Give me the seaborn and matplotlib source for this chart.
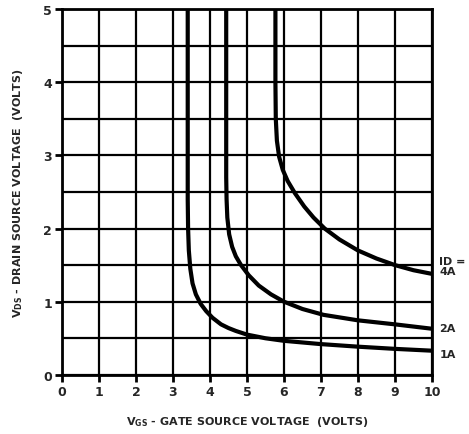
import matplotlib
matplotlib.use("Agg")
import matplotlib.pyplot as plt
import pandas as pd
import seaborn as sns

# curves (VGS, VDS) for each drain current
vgs_1a = [3.40, 3.40, 3.41, 3.43, 3.47, 3.53, 3.62, 3.75, 3.90, 4.07, 4.30, 4.50, 4.70, 5.0, 5.5, 6.0, 7.0, 8.0, 9.0, 10.0]
vds_1a = [5.0, 2.4, 2.0, 1.7, 1.45, 1.25, 1.1, 0.97, 0.87, 0.78, 0.69, 0.64, 0.60, 0.55, 0.50, 0.465, 0.42, 0.385, 0.355, 0.33]
vgs_2a = [4.44, 4.44, 4.45, 4.47, 4.52, 4.60, 4.70, 4.84, 5.05, 5.32, 5.65, 6.0, 6.5, 7.07, 8.0, 9.0, 10.0]
vds_2a = [5.0, 2.7, 2.4, 2.15, 1.92, 1.75, 1.62, 1.5, 1.36, 1.22, 1.1, 1.0, 0.9, 0.82, 0.745, 0.69, 0.63]
vgs_4a = [5.77, 5.77, 5.78, 5.81, 5.87, 5.97, 6.1, 6.3, 6.55, 6.8, 7.1, 7.5, 8.0, 8.5, 9.0, 9.5, 10.0]
vds_4a = [5.0, 4.0, 3.5, 3.2, 2.98, 2.8, 2.65, 2.48, 2.3, 2.15, 2.0, 1.85, 1.7, 1.59, 1.5, 1.43, 1.38]

currents = ["1A", "2A", "4A"]
x_ticks = list(range(0, 11))
y_ticks = list(range(0, 6))

df = pd.concat([
    pd.DataFrame({"vgs": vgs_1a, "vds": vds_1a, "id": "1A"}),
    pd.DataFrame({"vgs": vgs_2a, "vds": vds_2a, "id": "2A"}),
    pd.DataFrame({"vgs": vgs_4a, "vds": vds_4a, "id": "4A"}),
], ignore_index=True)

sns.set_style("white")
plt.rcParams["font.family"] = ["DejaVu Sans"]
plt.rcParams["font.weight"] = "bold"

fig = plt.figure(figsize=(4.69, 4.35), dpi=100)
ax = fig.add_axes([0.132, 0.136, 0.789, 0.841])

sns.lineplot(data=df, x="vgs", y="vds", hue="id", hue_order=currents,
             palette=["black"] * 3, sort=False, estimator=None,
             linewidth=3.0, legend=False, ax=ax)
for ln in ax.lines:
    ln.set_solid_joinstyle("round")

ax.set_xlim(0, 10)
ax.set_ylim(0, 5)
ax.set_xticks(x_ticks)
ax.set_yticks(y_ticks)
ax.set_yticks([0.5, 1.5, 2.5, 3.5, 4.5], minor=True)
ax.grid(True, which="both", color="black", linewidth=1.6)
ax.set_axisbelow(True)
for s in ax.spines.values():
    s.set_visible(True)
    s.set_color("black")
    s.set_linewidth(2)
ax.tick_params(axis="both", which="major", direction="out", length=5, width=2,
               color="black", labelsize=9, pad=2)
ax.tick_params(axis="y", which="minor", length=0)
ax.tick_params(axis="both", left=True, bottom=True)
for lbl in ax.get_xticklabels() + ax.get_yticklabels():
    lbl.set_fontweight("bold")

ax.set_xlabel(r"V$_{\mathbf{GS}}$ - GATE SOURCE VOLTAGE  (VOLTS)",
              fontsize=8, fontweight="bold", labelpad=12)
ax.set_ylabel(r"V$_{\mathbf{DS}}$ - DRAIN SOURCE VOLTAGE  (VOLTS)",
              fontsize=8, fontweight="bold", labelpad=13)

# current labels on the right edge
ax.text(10.2, 1.56, "ID =", fontsize=8, fontweight="bold", va="center", ha="left", clip_on=False)
ax.text(10.2, 1.42, "4A", fontsize=8, fontweight="bold", va="center", ha="left", clip_on=False)
ax.text(10.2, 0.64, "2A", fontsize=8, fontweight="bold", va="center", ha="left", clip_on=False)
ax.text(10.2, 0.29, "1A", fontsize=8, fontweight="bold", va="center", ha="left", clip_on=False)

fig.savefig("out.png", dpi=100, facecolor="white")
